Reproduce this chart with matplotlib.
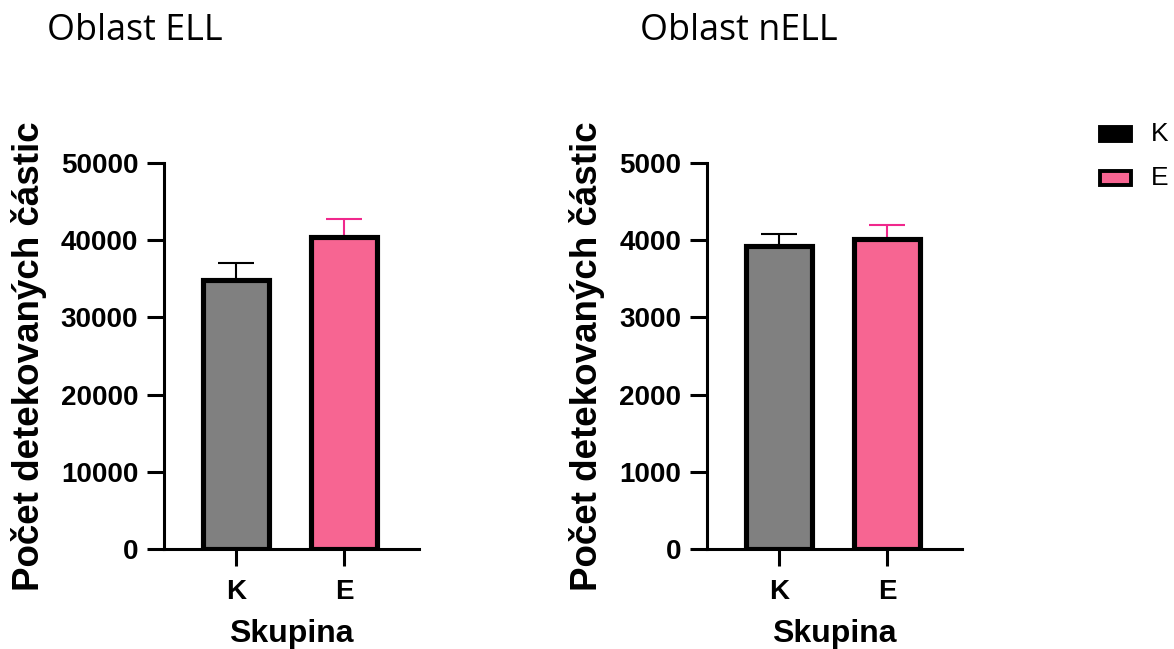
import matplotlib
matplotlib.use("Agg")
import matplotlib.pyplot as plt
import matplotlib.patches as mpatches
import numpy as np

# ── data ───────────────────────────────────────────────
groups = ["K", "E"]
ell_means = [34850, 40400]
ell_err = [2150, 2400]
nell_means = [3930, 4010]
nell_err = [150, 190]

ell_ticks = [0, 10000, 20000, 30000, 40000, 50000]
nell_ticks = [0, 1000, 2000, 3000, 4000, 5000]

GRAY = "#808080"
PINK = "#f76592"
PINK_ERR = "#f0288c"
BLACK = "#000000"
W, H = 1174, 649

plt.rcParams["font.family"] = ["Liberation Sans", "DejaVu Sans"]

fig = plt.figure(figsize=(W / 100, H / 100), dpi=100)
fig.patch.set_facecolor("white")


def panel(rect, means, errs, ticks, title, title_x):
    ax = fig.add_axes(rect)
    x = np.arange(len(groups))
    ax.bar(x, means, width=0.61, color=[GRAY, PINK], edgecolor=BLACK,
           linewidth=3.7, zorder=3)
    for xi, m, e, c in zip(x, means, errs, [BLACK, PINK_ERR]):
        ax.errorbar(xi, m, yerr=[[0], [e]], fmt="none", ecolor=c,
                    elinewidth=1.5, capsize=13, capthick=1.5, zorder=2,
                    clip_on=False)
    ax.set_xlim(-0.667, 1.694)
    ax.set_ylim(ticks[0], ticks[-1])
    ax.set_yticks(ticks)
    ax.set_yticklabels([str(t) for t in ticks])
    ax.set_xticks(x)
    ax.set_xticklabels(groups)
    for sp in ("top", "right"):
        ax.spines[sp].set_visible(False)
    for sp in ("left", "bottom"):
        ax.spines[sp].set_linewidth(2.2)
    ax.tick_params(width=2.2, length=12.5, labelsize=20, pad=6)
    ax.tick_params(axis="x", pad=9)
    for lab in ax.get_xticklabels() + ax.get_yticklabels():
        lab.set_fontweight("bold")
    ax.set_ylabel("Počet detekovaných částic", fontsize=26.5,
                  fontweight="bold", labelpad=10)
    ax.set_xlabel("Skupina", fontsize=23, fontweight="bold", labelpad=10)
    fig.text(title_x, 1 - 31 / H, title, fontsize=25.8, family="Open Sans",
             ha="left", va="center")
    return ax


ax1 = panel([164 / W, 1 - 549 / H, 255 / W, 386 / H],
            ell_means, ell_err, ell_ticks, "Oblast ELL", 47 / W)
ax2 = panel([707 / W, 1 - 549 / H, 255 / W, 386 / H],
            nell_means, nell_err, nell_ticks, "Oblast nELL", 640 / W)

# legend, drawn by hand in figure pixels
legend_faces = [BLACK, PINK]
legend_rows = [134, 178]
for lab, face, yc in zip(groups, legend_faces, legend_rows):
    fig.add_artist(mpatches.Rectangle(
        (1100 / W, 1 - (yc + 7) / H), 31 / W, 14 / H,
        facecolor=face, edgecolor=BLACK, linewidth=2.8,
        transform=fig.transFigure))
    fig.text(1151 / W, 1 - yc / H, lab, fontsize=19, ha="left",
             va="center")

fig.savefig("out.png", dpi=100, facecolor="white")
